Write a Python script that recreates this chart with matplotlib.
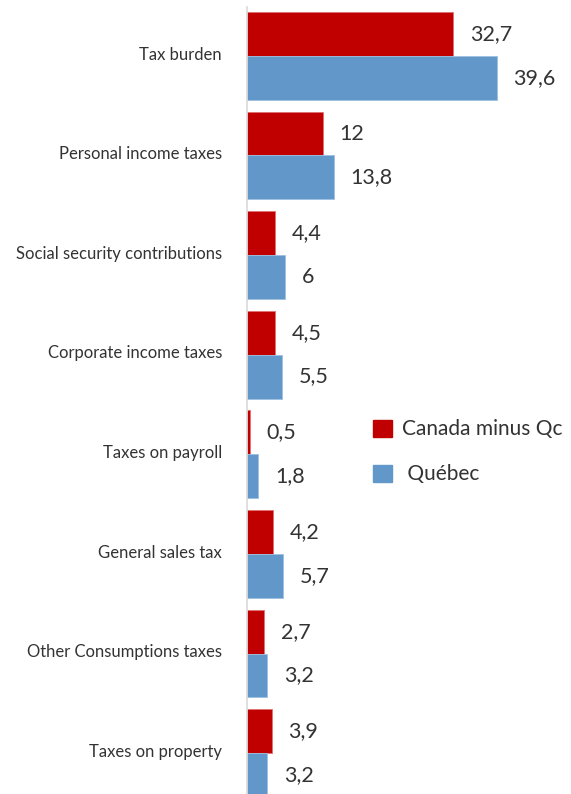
import matplotlib.pyplot as plt
from matplotlib.patches import Patch
import matplotlib.transforms as mtransforms
import numpy as np

plt.rcParams['font.family'] = ['Lato', 'DejaVu Sans']

categories = ['Tax burden', 'Personal income taxes', 'Social security contributions',
              'Corporate income taxes', 'Taxes on payroll', 'General sales tax',
              'Other Consumptions taxes', 'Taxes on property']
canada_minus_qc = [32.7, 12, 4.4, 4.5, 0.5, 4.2, 2.7, 3.9]
quebec = [39.6, 13.8, 6, 5.5, 1.8, 5.7, 3.2, 3.2]

red = '#C00000'
blue = '#6298C9'
text_col = '#333333'

def fmt(v):
    # french-style decimal comma, drop ".0"
    if float(v).is_integer():
        return str(int(v))
    return str(v).replace('.', ',')

fig = plt.figure(figsize=(5.71, 7.94), dpi=100)
ax = fig.add_axes([247 / 571, 0, 1 - 247 / 571, 787 / 794])

ind = np.arange(len(categories))
h = 0.44
ax.barh(ind - h / 2, canada_minus_qc, h, color=red, edgecolor='#E07070', linewidth=0.6)
ax.barh(ind + h / 2, quebec, h, color=blue, edgecolor='#9DC0E0', linewidth=0.6)

for i in ind:
    ax.annotate(fmt(canada_minus_qc[i]), (canada_minus_qc[i], i - h / 2),
                xytext=(12, 0), textcoords='offset points', ha='left', va='center',
                fontsize=15.5, color=text_col)
    ax.annotate(fmt(quebec[i]), (quebec[i], i + h / 2),
                xytext=(12, 0), textcoords='offset points', ha='left', va='center',
                fontsize=15.5, color=text_col)

ax.set_xlim(0, 51.4)
ax.set_ylim(7.41, -0.49)
ax.set_yticks(ind)
ax.set_yticklabels(categories, fontsize=12, color=text_col)
ax.tick_params(axis='y', length=0, pad=18)
# nudge category labels up a little
shift = mtransforms.ScaledTranslation(0, 2 / 72, fig.dpi_scale_trans)
for lbl in ax.get_yticklabels():
    lbl.set_transform(lbl.get_transform() + shift)
ax.set_xticks([])
for s in ['top', 'right', 'bottom']:
    ax.spines[s].set_visible(False)
ax.spines['left'].set_color('#D9D9D9')
ax.spines['left'].set_linewidth(1.2)

handles = [Patch(color=red, label='Canada minus Qc'), Patch(color=blue, label=' Québec')]
fig.legend(handles=handles, loc='upper left', bbox_to_anchor=(363 / 571, 1 - 409 / 794),
           frameon=False, handlelength=0.9, handleheight=0.9,
           handletextpad=0.45, labelspacing=1.2, borderpad=0, labelcolor=text_col,
           prop={'size': 15})

fig.savefig('out.png', dpi=100)
